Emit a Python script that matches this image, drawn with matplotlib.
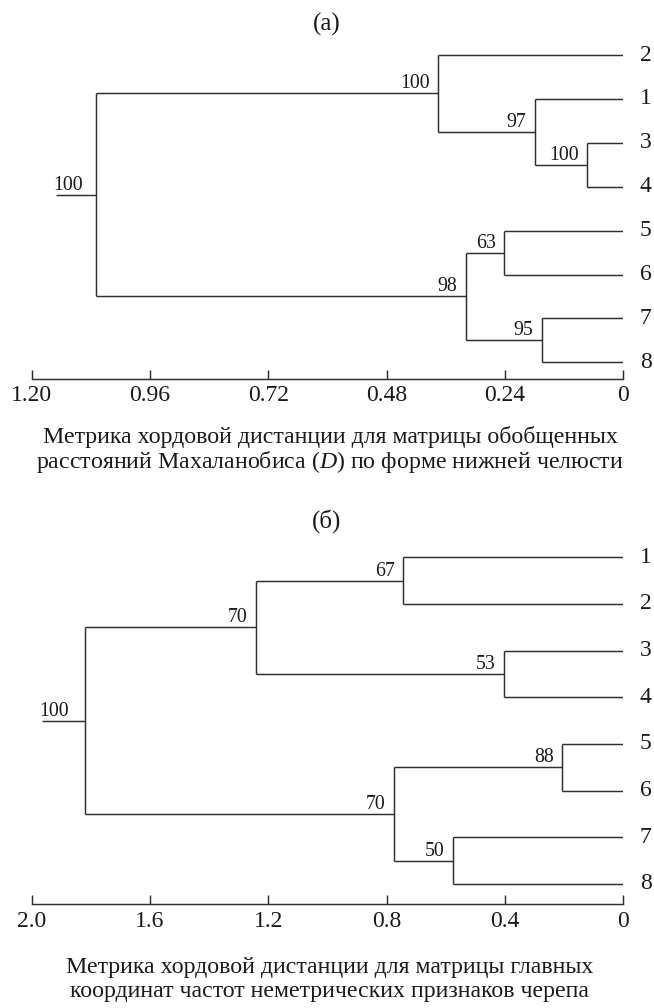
import matplotlib
matplotlib.use("Agg")
import matplotlib.pyplot as plt

# --- данные ---
# (а) листья сверху вниз; узлы 0-7 - листья, 8+ - объединения
leaves_a = ["2", "1", "3", "4", "5", "6", "7", "8"]
left_a = [2, 1, 0, 4, 6, 11, 10]
right_a = [3, 8, 9, 5, 7, 12, 13]
height_a = [0.073, 0.180, 0.375, 0.241, 0.165, 0.320, 1.069]
boot_a = [100, 97, 100, 63, 95, 98, 100]
root_a = 1.150
ticks_a = [1.20, 0.96, 0.72, 0.48, 0.24, 0]
ticklabels_a = ["1.20", "0.96", "0.72", "0.48", "0.24", "0"]
caption_a = ["Метрика хордовой дистанции для матрицы обобщенных",
             "расстояний Махаланобиса ($\\mathit{D}$) по форме нижней челюсти"]

# (б)
leaves_b = ["1", "2", "3", "4", "5", "6", "7", "8"]
left_b = [0, 2, 8, 4, 6, 11, 10]
right_b = [1, 3, 9, 5, 7, 12, 13]
height_b = [0.744, 0.403, 1.241, 0.207, 0.575, 0.776, 1.820]
boot_b = [67, 53, 70, 88, 50, 70, 100]
root_b = 1.966
ticks_b = [2.0, 1.6, 1.2, 0.8, 0.4, 0]
ticklabels_b = ["2.0", "1.6", "1.2", "0.8", "0.4", "0"]
caption_b = ["Метрика хордовой дистанции для матрицы главных",
             "координат частот неметрических признаков черепа"]

plt.rcParams['font.family'] = ['Liberation Serif', 'DejaVu Serif']
plt.rcParams['mathtext.fontset'] = 'custom'
plt.rcParams['mathtext.rm'] = 'Liberation Serif'
plt.rcParams['mathtext.it'] = 'Liberation Serif:italic'

LINE = '#2e2e2e'
TEXT = '#1a1a1a'
W, H = 654, 1008


def px_axes(fig, x0, y0, x1, y1):
    # оси по пиксельным координатам (сверху вниз)
    return fig.add_axes([x0 / W, 1 - y1 / H, (x1 - x0) / W, (y1 - y0) / H])


def draw_tree(ax, leaves, left, right, height, boot, root_x, xmax, ticks, ticklabels, ylim):
    n = len(leaves)
    ypos = [float(i) for i in range(n)]
    xpos = [0.0] * n
    for l, r, h in zip(left, right, height):
        yl, yr = ypos[l], ypos[r]
        ax.plot([h, h], [yl, yr], color=LINE, lw=1.05, solid_capstyle='butt')
        ax.plot([xpos[l], h], [yl, yl], color=LINE, lw=1.05, solid_capstyle='butt')
        ax.plot([xpos[r], h], [yr, yr], color=LINE, lw=1.05, solid_capstyle='butt')
        ypos.append((yl + yr) / 2)
        xpos.append(h)
    # корень
    yroot = ypos[-1]
    ax.plot([height[-1], root_x], [yroot, yroot], color=LINE, lw=1.05, solid_capstyle='butt')

    # бутстреп-поддержки (над веткой, слева от узла)
    for k in range(len(height) - 1):
        node = n + k
        ax.annotate(str(boot[k]), xy=(xpos[node], ypos[node]), xytext=(-6, 3.6),
                    textcoords='offset points', ha='right', va='baseline',
                    fontsize=14.3, color=TEXT, annotation_clip=False)
    ax.annotate(str(boot[-1]), xy=(root_x, yroot), xytext=(-2, 3.6),
                textcoords='offset points', ha='left', va='baseline',
                fontsize=14.3, color=TEXT, annotation_clip=False)

    # подписи листьев
    for i, lab in enumerate(leaves):
        ax.annotate(lab, xy=(0, i), xytext=(12, 0), textcoords='offset points',
                    ha='left', va='center', fontsize=17, color=TEXT,
                    annotation_clip=False)

    ax.set_xlim(xmax, 0)
    ax.set_ylim(*ylim)
    for s in ['left', 'top', 'right']:
        ax.spines[s].set_visible(False)
    ax.spines['bottom'].set_color(LINE)
    ax.spines['bottom'].set_linewidth(1.05)
    ax.set_yticks([])
    ax.set_xticks(ticks)
    ax.set_xticklabels(ticklabels)
    ax.tick_params(axis='x', direction='in', length=6.5, width=1.05, color=LINE,
                   labelsize=17, labelcolor=TEXT, pad=5)
    ax.patch.set_visible(False)


def caption(fig, lines, y_first, step=25):
    for i, line in enumerate(lines):
        fig.text(330 / W, 1 - (y_first + i * step) / H, line, ha='center',
                 va='center', fontsize=17.2, color=TEXT)


fig = plt.figure(figsize=(W / 100, H / 100), dpi=100)

# (а): листья 55..362 px, ось 378.5 px
ax1 = px_axes(fig, 31.7, 40, 623.3, 378.5)
draw_tree(ax1, leaves_a, left_a, right_a, height_a, boot_a, root_a, 1.2,
          ticks_a, ticklabels_a, (7.369, -0.342))
fig.text(327 / W, 1 - 24 / H, "(а)", ha='center', va='center', fontsize=18, color=TEXT)
caption(fig, caption_a, 437)

# (б): листья 557..884 px, ось 904 px
ax2 = px_axes(fig, 31.7, 540, 623.3, 904)
draw_tree(ax2, leaves_b, left_b, right_b, height_b, boot_b, root_b, 2.0,
          ticks_b, ticklabels_b, (7.429, -0.371))
fig.text(327 / W, 1 - 521 / H, "(б)", ha='center', va='center', fontsize=18, color=TEXT)
caption(fig, caption_b, 967)

fig.savefig('out.png', dpi=100)
